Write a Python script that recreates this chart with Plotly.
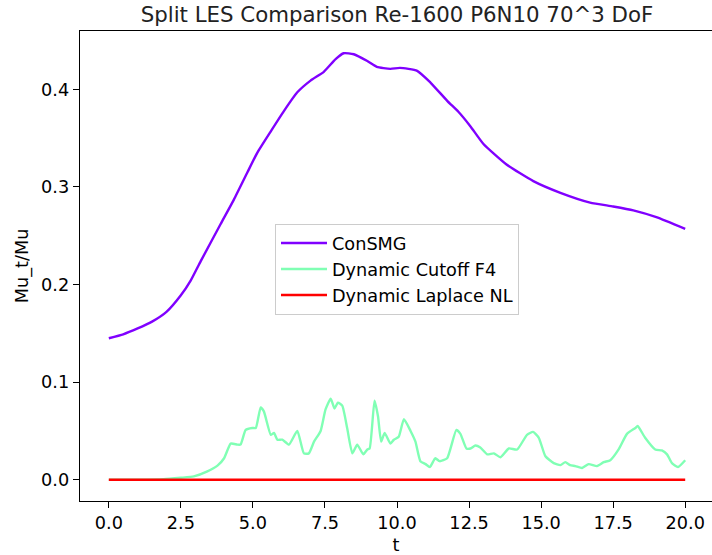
import plotly.graph_objects as go

# ConSMG
t_consmg = [0.0, 0.5, 1.0, 1.5, 2.0, 2.5, 2.84, 3.19, 3.88, 4.34, 4.81, 5.15, 5.62, 6.08, 6.54, 7.0,
            7.46, 7.87, 8.15, 8.5, 8.97, 9.3, 9.77, 10.1, 10.7, 11.16, 11.75, 12.13, 12.55, 13.0,
            13.8, 14.73, 15.67, 16.7, 17.5, 18.2, 19.0, 20.0]
v_consmg = [0.145, 0.149, 0.155, 0.162, 0.172, 0.189, 0.204, 0.224, 0.262, 0.287, 0.315, 0.335, 0.357,
            0.378, 0.397, 0.409, 0.418, 0.431, 0.437, 0.436, 0.429, 0.423, 0.421, 0.422, 0.419,
            0.407, 0.388, 0.377, 0.362, 0.344, 0.323, 0.306, 0.294, 0.284, 0.280, 0.276, 0.269,
            0.257]

# Dynamic Cutoff F4
t_cutoff = [0.0, 1.0, 1.9, 2.5, 2.95, 3.42, 3.77, 4.0, 4.23, 4.46, 4.57, 4.75, 4.98, 5.1, 5.27, 5.38,
            5.62, 5.73, 5.85, 6.02, 6.25, 6.54, 6.77, 6.94, 7.12, 7.35, 7.52, 7.70, 7.83, 7.95, 8.1,
            8.27, 8.45, 8.62, 8.83, 8.97, 9.05, 9.22, 9.34, 9.45, 9.57, 9.77, 9.89, 10.06, 10.24,
            10.47, 10.64, 10.81, 10.99, 11.14, 11.33, 11.48, 11.74, 12.06, 12.2, 12.41, 12.55, 12.72,
            12.89, 13.13, 13.36, 13.59, 13.88, 14.17, 14.51, 14.72, 14.92, 15.15, 15.44, 15.67,
            15.84, 16.01, 16.19, 16.42, 16.65, 16.94, 17.17, 17.4, 17.69, 17.98, 18.27, 18.35,
            18.61, 18.96, 19.19, 19.37, 19.54, 19.75, 20.0]
v_cutoff = [0.0, 0.0, 0.0005, 0.002, 0.0034, 0.0085, 0.0144, 0.022, 0.037, 0.036, 0.036, 0.051, 0.053,
            0.053, 0.074, 0.070, 0.046, 0.048, 0.041, 0.041, 0.036, 0.050, 0.027, 0.027, 0.039,
            0.050, 0.072, 0.083, 0.073, 0.079, 0.076, 0.053, 0.027, 0.036, 0.026, 0.031, 0.032,
            0.081, 0.065, 0.039, 0.048, 0.037, 0.041, 0.044, 0.062, 0.050, 0.039, 0.019, 0.016,
            0.013, 0.022, 0.019, 0.022, 0.051, 0.047, 0.032, 0.032, 0.035, 0.033, 0.026, 0.027,
            0.023, 0.032, 0.031, 0.046, 0.049, 0.043, 0.024, 0.017, 0.015, 0.018, 0.015, 0.014,
            0.012, 0.016, 0.014, 0.018, 0.020, 0.031, 0.047, 0.053, 0.055, 0.043, 0.031, 0.030,
            0.026, 0.017, 0.013, 0.020]

# Dynamic Laplace NL
t_laplace = [0.0, 5.0, 10.0, 15.0, 20.0]
v_laplace = [0.0, 0.0, 0.0, 0.0, 0.0]

x_ticks = [0.0, 2.5, 5.0, 7.5, 10.0, 12.5, 15.0, 17.5, 20.0]
y_ticks = [0.0, 0.1, 0.2, 0.3, 0.4]

FONT = "DejaVu Sans"
FS = 17.7

fig = go.Figure()
fig.add_trace(go.Scatter(x=t_consmg, y=v_consmg, mode="lines", name="ConSMG",
                         line=dict(color="#8000ff", width=2.4, shape="spline", smoothing=0.5),
                         legendgroup="a"))
fig.add_trace(go.Scatter(x=t_cutoff, y=v_cutoff, mode="lines", name="Dynamic Cutoff F4",
                         line=dict(color="#80ffb4", width=2.4, shape="spline", smoothing=0.5),
                         legendgroup="b"))
fig.add_trace(go.Scatter(x=t_laplace, y=v_laplace, mode="lines", name="Dynamic Laplace NL",
                         line=dict(color="#ff0000", width=2.4),
                         legendgroup="c"))

fig.update_layout(
    width=712, height=555,
    margin=dict(l=80, r=0, t=31, b=54),
    paper_bgcolor="white", plot_bgcolor="white",
    font=dict(family=FONT, size=FS, color="black"),
    title=dict(text="Split LES Comparison Re-1600 P6N10 70^3 DoF",
               x=397 / 712, xanchor="center", xref="container",
               y=1 - 15 / 555, yanchor="middle", yref="container",
               font=dict(family=FONT, size=21.3, color="#222222")),
    showlegend=True,
    legend=dict(x=(275 - 80) / 632, y=(501 - 224) / 470, xanchor="left", yanchor="top",
                bgcolor="rgba(255,255,255,0.8)", bordercolor="#cccccc", borderwidth=1,
                font=dict(family=FONT, size=FS, color="black"),
                itemwidth=46,
                traceorder="grouped", tracegroupgap=0),
)
fig.update_xaxes(range=[-1, 20.93], tickvals=x_ticks, ticktext=[f"{v:.1f}" for v in x_ticks],
                 showgrid=False, zeroline=False, showline=True, linecolor="black", linewidth=1.4,
                 mirror=True, ticks="outside", ticklen=6, tickwidth=1.4, tickcolor="black",
                 title=dict(text="t", standoff=6, font=dict(family=FONT, size=FS)))
fig.update_yaxes(range=[-0.0218, 0.4598], tickvals=y_ticks, ticktext=[f"{v:.1f}" for v in y_ticks],
                 showgrid=False, zeroline=False, showline=True, linecolor="black", linewidth=1.4,
                 mirror=False, ticks="outside", ticklen=6, tickwidth=1.4, tickcolor="black",
                 title=dict(text="Mu_t/Mu", standoff=7, font=dict(family=FONT, size=FS)))

fig.write_html("out.html")
